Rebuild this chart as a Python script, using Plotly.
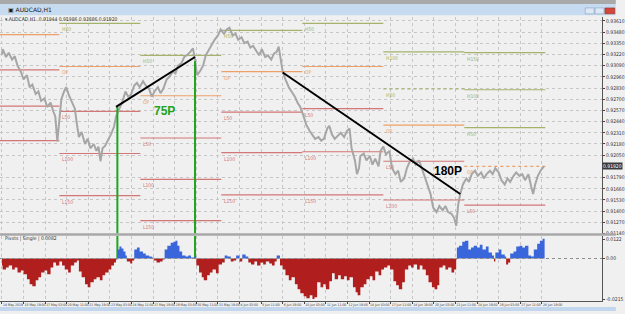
import plotly.graph_objects as go

# ---------------- data ----------------
# hourly bar index (0 = 14 May 2019 11:00) and closing price of AUDCAD H1 (sampled)
price_bar = [0, 1, 6, 10, 15, 19, 23, 28, 32, 37, 41, 45, 50, 54, 58, 63, 67, 72, 76, 79, 82, 85, 88, 92, 95, 99,
             104, 108, 111, 114, 118, 123, 127, 131, 136, 140, 143, 146, 149, 153, 158, 162, 166, 169, 174, 178,
             183, 187, 191, 196, 200, 204, 209, 213, 218, 222, 226, 231, 235, 239, 244, 248, 253, 257, 261, 266,
             270, 274, 279, 283, 286, 289, 293, 298, 302, 307, 311, 315, 320, 324, 329, 333, 337, 342, 346, 350,
             355, 359, 364, 368, 372, 377, 381, 385, 390, 394, 399, 403, 407, 410, 413, 416, 420, 425, 429, 434,
             438, 442, 447, 451, 456, 460, 464, 469, 473, 477, 482, 485, 489, 493, 498, 502, 507, 511, 515, 518,
             523, 526, 529, 531, 536, 540, 545, 549, 553, 558, 561, 565, 569, 574, 578, 583, 587, 591, 596, 600,
             604, 609, 613, 618, 622, 626, 631, 635, 639, 644, 648, 653, 657, 661, 666, 670, 673, 676, 679, 683,
             688, 692, 696, 701, 705, 710, 714, 718, 723, 727, 731, 736, 740, 745, 749, 753, 758, 762, 767, 771,
             775, 780, 784, 787, 790, 794, 798, 803]
price_close = [0.9322, 0.9328, 0.9319, 0.9324, 0.9316, 0.9320, 0.9309, 0.9302, 0.9293, 0.9298, 0.9284, 0.9287,
               0.9276, 0.9279, 0.9268, 0.9271, 0.9261, 0.9266, 0.9256, 0.9250, 0.9221, 0.9247, 0.9270, 0.9279,
               0.9284, 0.9275, 0.9266, 0.9259, 0.9241, 0.9226, 0.9232, 0.9218, 0.9224, 0.9213, 0.9218, 0.9210,
               0.9215, 0.9198, 0.9213, 0.9216, 0.9224, 0.9230, 0.9238, 0.9250, 0.9259, 0.9266, 0.9279, 0.9273,
               0.9275, 0.9286, 0.9289, 0.9284, 0.9291, 0.9286, 0.9282, 0.9273, 0.9279, 0.9284, 0.9277, 0.9282,
               0.9293, 0.9296, 0.9302, 0.9300, 0.9309, 0.9312, 0.9319, 0.9321, 0.9325, 0.9329, 0.9316, 0.9298,
               0.9302, 0.9309, 0.9321, 0.9328, 0.9335, 0.9339, 0.9344, 0.9351, 0.9346, 0.9351, 0.9353, 0.9344,
               0.9346, 0.9339, 0.9342, 0.9335, 0.9337, 0.9330, 0.9332, 0.9325, 0.9321, 0.9328, 0.9319, 0.9321,
               0.9316, 0.9323, 0.9325, 0.9331, 0.9314, 0.9302, 0.9293, 0.9284, 0.9279, 0.9273, 0.9266, 0.9261,
               0.9250, 0.9240, 0.9233, 0.9229, 0.9224, 0.9226, 0.9222, 0.9224, 0.9236, 0.9239, 0.9229, 0.9224,
               0.9228, 0.9231, 0.9226, 0.9233, 0.9236, 0.9213, 0.9199, 0.9183, 0.9190, 0.9204, 0.9207, 0.9199,
               0.9204, 0.9194, 0.9201, 0.9192, 0.9210, 0.9215, 0.9206, 0.9210, 0.9190, 0.9183, 0.9187, 0.9174,
               0.9178, 0.9190, 0.9197, 0.9201, 0.9194, 0.9199, 0.9190, 0.9181, 0.9171, 0.9160, 0.9144, 0.9139,
               0.9146, 0.9141, 0.9146, 0.9139, 0.9137, 0.9132, 0.9123, 0.9148, 0.9160, 0.9171, 0.9178, 0.9174,
               0.9183, 0.9187, 0.9181, 0.9185, 0.9178, 0.9183, 0.9187, 0.9183, 0.9190, 0.9185, 0.9176, 0.9171,
               0.9178, 0.9174, 0.9181, 0.9185, 0.9181, 0.9183, 0.9176, 0.9183, 0.9169, 0.9160, 0.9171, 0.9181,
               0.9187, 0.9192]

# weekly pivot levels (one value per week, None = not drawn)
week_start = [-35, 85, 205, 325, 445, 565, 685]
week_end = [85, 205, 325, 445, 565, 685, 805]
level_H150 = [None, None, None, None, None, None, 0.9324]
level_H100 = [None, None, None, None, None, 0.9325, 0.9281]
level_H50 = [None, 0.9358, 0.9321, 0.9350, 0.9358, 0.9282, 0.9237]
level_OP = [0.9345, 0.9308, 0.9274, 0.9302, 0.9308, 0.9240, 0.9192]
level_L50 = [0.9304, 0.9256, 0.9225, 0.9255, 0.9259, 0.9198, 0.9147]
level_L100 = [0.9262, 0.9207, 0.9177, 0.9208, 0.9209, 0.9153, None]
level_L150 = [0.9222, 0.9158, 0.9129, 0.9159, 0.9159, None, None]

# indicator histogram (Pivots | Single)
hist_bar = [0, 1, 6, 10, 15, 19, 23, 28, 32, 37, 41, 45, 50, 54, 58, 63, 67, 72, 76, 80, 85, 89, 93, 98, 102, 107,
            111, 114, 118, 123, 127, 131, 136, 140, 145, 149, 153, 158, 162, 166, 169, 171, 174, 177, 180, 183,
            185, 190, 193, 196, 200, 204, 209, 213, 218, 222, 225, 229, 234, 238, 241, 245, 250, 254, 257, 260,
            263, 267, 272, 276, 280, 285, 288, 292, 296, 299, 304, 308, 312, 317, 321, 326, 330, 334, 339, 343,
            347, 352, 356, 361, 365, 369, 374, 378, 383, 387, 391, 396, 400, 404, 407, 412, 416, 420, 425, 429,
            434, 438, 442, 447, 451, 456, 460, 463, 467, 472, 476, 480, 485, 489, 493, 498, 502, 507, 511, 515,
            520, 524, 527, 531, 536, 540, 545, 549, 553, 558, 562, 566, 571, 575, 580, 584, 588, 593, 597, 602,
            606, 610, 615, 619, 623, 628, 632, 637, 641, 645, 648, 653, 657, 661, 666, 670, 673, 674, 677, 682,
            686, 691, 695, 699, 704, 708, 712, 717, 721, 726, 729, 731, 736, 740, 745, 747, 750, 753, 758, 762,
            767, 771, 775, 780, 784, 788, 793, 797, 801, 804]
hist_value = [-0.0035, -0.0055, -0.0045, -0.0035, -0.0055, -0.0045, -0.0070, -0.0060, -0.0080, -0.0105, -0.0130,
              -0.0140, -0.0110, -0.0095, -0.0070, -0.0060, -0.0080, -0.0045, -0.0020, -0.0035, -0.0015, -0.0035,
              -0.0055, -0.0070, -0.0035, -0.0020, -0.0010, -0.0065, -0.0095, -0.0130, -0.0145, -0.0120, -0.0105,
              -0.0095, -0.0110, -0.0085, -0.0070, -0.0055, -0.0035, -0.0020, -0.0005, 0.0045, 0.0060, 0.0050,
              0.0035, 0.0015, -0.0015, -0.0025, -0.0010, 0.0045, 0.0055, 0.0035, 0.0025, 0.0015, 0.0010, 0.0005,
              -0.0010, -0.0020, -0.0015, -0.0005, 0.0045, 0.0065, 0.0080, 0.0085, 0.0090, 0.0065, 0.0035, 0.0015,
              0.0010, 0.0015, 0.0005, 0.0010, -0.0035, -0.0070, -0.0095, -0.0110, -0.0085, -0.0070, -0.0055,
              -0.0075, -0.0030, -0.0020, 0.0015, 0.0010, -0.0015, -0.0010, 0.0015, -0.0015, 0.0020, 0.0010,
              -0.0020, -0.0030, -0.0015, -0.0035, -0.0020, -0.0030, -0.0015, -0.0025, -0.0035, -0.0015, 0.0015,
              -0.0035, -0.0055, -0.0085, -0.0110, -0.0095, -0.0130, -0.0155, -0.0175, -0.0190, -0.0200, -0.0185,
              -0.0205, -0.0195, -0.0120, -0.0145, -0.0130, -0.0155, -0.0115, -0.0075, -0.0105, -0.0085, -0.0105,
              -0.0090, -0.0110, -0.0095, -0.0145, -0.0170, -0.0185, -0.0145, -0.0130, -0.0105, -0.0090, -0.0110,
              -0.0065, -0.0085, -0.0055, -0.0045, -0.0035, -0.0055, -0.0115, -0.0135, -0.0155, -0.0120, -0.0055,
              -0.0035, -0.0045, -0.0030, -0.0055, -0.0035, -0.0055, -0.0085, -0.0120, -0.0145, -0.0155, -0.0135,
              -0.0045, -0.0035, -0.0055, -0.0045, -0.0070, -0.0055, -0.0005, 0.0055, 0.0065, 0.0085, 0.0090,
              0.0045, 0.0055, 0.0065, 0.0055, 0.0070, 0.0045, 0.0060, 0.0030, 0.0015, -0.0015, 0.0030, 0.0045,
              0.0020, 0.0010, -0.0030, -0.0020, 0.0025, 0.0035, 0.0060, 0.0065, 0.0055, 0.0065, 0.0015, 0.0010,
              0.0045, 0.0075, 0.0090, 0.0100, 0.0100]

# time axis labels (every 32 bars)
time_tick_bars = [0, 32, 64, 96, 128, 160, 192, 224, 256, 288, 320, 352, 384, 416, 448, 480, 512, 544, 576, 608,
                  640, 672, 704, 736, 768, 800]
time_tick_text = ["14 May 2019", "15 May 19:00", "17 May 03:00", "20 May 11:00", "21 May 19:00", "23 May 03:00",
                  "24 May 11:00", "27 May 19:00", "29 May 03:00", "30 May 11:00", "31 May 19:00", "4 Jun 03:00",
                  "5 Jun 11:00", "6 Jun 19:00", "10 Jun 03:00", "11 Jun 11:00", "12 Jun 19:00", "14 Jun 03:00",
                  "17 Jun 11:00", "18 Jun 19:00", "20 Jun 03:00", "21 Jun 11:00", "24 Jun 19:00", "26 Jun 03:00",
                  "27 Jun 11:00", "28 Jun 19:00"]
price_ticks = [0.9114, 0.9127, 0.9140, 0.9153, 0.9166, 0.9179, 0.9205, 0.9218, 0.9231, 0.9244, 0.9257,
               0.9270, 0.9283, 0.9296, 0.9309, 0.9322, 0.9335, 0.9348, 0.9361]
ind_ticks = [0.0095, 0, -0.0205]
ind_tick_text = ["0.0122", "0.00", "-0.0215"]

# drawn objects
trend_75_bars = [169, 286]
trend_75_prices = [0.9261, 0.9319]
trend_180_bars = [416, 679]
trend_180_prices = [0.9301, 0.9160]
green_bars = [171, 286]
green_tops = [0.9261, 0.9314]
last_price = 0.9192
ohlc_text = "AUDCAD,H1  0.91944 0.91986 0.91886 0.91920"

# ---------------- figure ----------------
W, H = 625, 314
PLOT_R = 611
X_RANGE = [-2.92, 889.05]
Y_RANGE = [0.91138, 0.936565]
Y2_RANGE = [-0.0215, 0.0115]
SMALL = "Liberation Sans Narrow, DejaVu Sans Condensed, DejaVu Sans"

def px(x):
    return x / PLOT_R

def py(y):
    return 1 - y / H

fig = go.Figure()

# pivot level segments
level_sets = [("H150", level_H150, "#a3b46a"), ("H100", level_H100, "#a3b46a"), ("H50", level_H50, "#a3b46a"),
              ("OP", level_OP, "#eea068"), ("L50", level_L50, "#d27676"), ("L100", level_L100, "#d27676"),
              ("L150", level_L150, "#d27676")]
annotations = []
for name, vals, col in level_sets:
    for i, v in enumerate(vals):
        if v is None:
            continue
        dash = "solid"
        if (name == "H50" and i == 5) or (name == "OP" and i == 6):
            dash = "dot"
        fig.add_trace(go.Scatter(x=[week_start[i], week_end[i]], y=[v, v], mode="lines",
                                 line=dict(color=col, width=1.2, dash=dash), xaxis="x", yaxis="y",
                                 hoverinfo="skip", showlegend=False))
        if week_start[i] >= 0:
            annotations.append(dict(x=week_start[i], y=v, xref="x", yref="y", text=name, showarrow=False,
                                    xanchor="left", yanchor="top", xshift=1, yshift=-1,
                                    font=dict(size=5, color=col, family=SMALL)))

# price
fig.add_trace(go.Scatter(x=price_bar, y=price_close, mode="lines", line=dict(color="#a6a6a6", width=2),
                         xaxis="x", yaxis="y", hoverinfo="skip", showlegend=False))

# green verticals
for b, t in zip(green_bars, green_tops):
    fig.add_trace(go.Scatter(x=[b, b], y=[t, Y_RANGE[0]], mode="lines", line=dict(color="#1fa51f", width=2),
                             xaxis="x", yaxis="y", hoverinfo="skip", showlegend=False))
    fig.add_trace(go.Scatter(x=[b, b], y=[Y2_RANGE[1], 0], mode="lines", line=dict(color="#1fa51f", width=2),
                             xaxis="x2", yaxis="y2", hoverinfo="skip", showlegend=False))

# trend lines
fig.add_trace(go.Scatter(x=trend_75_bars, y=trend_75_prices, mode="lines", line=dict(color="black", width=2),
                         xaxis="x", yaxis="y", hoverinfo="skip", showlegend=False))
fig.add_trace(go.Scatter(x=trend_180_bars, y=trend_180_prices, mode="lines", line=dict(color="black", width=2),
                         xaxis="x", yaxis="y", hoverinfo="skip", showlegend=False))

# histogram
neg = [min(v, 0) for v in hist_value]
pos = [max(v, 0) for v in hist_value]
fig.add_trace(go.Scatter(x=hist_bar, y=neg, mode="lines", line=dict(width=0, shape="hv", color="#b01e1e"),
                         fill="tozeroy", fillcolor="#b01e1e", xaxis="x2", yaxis="y2", hoverinfo="skip",
                         showlegend=False))
fig.add_trace(go.Scatter(x=hist_bar, y=pos, mode="lines", line=dict(width=0, shape="hv", color="#3a66dc"),
                         fill="tozeroy", fillcolor="#3a66dc", xaxis="x2", yaxis="y2", hoverinfo="skip",
                         showlegend=False))

annotations += [
    dict(x=241, y=0.9256, xref="x", yref="y", text="<b>75P</b>", showarrow=False,
         font=dict(size=12, color="#1fa51f", family="Liberation Sans")),
    dict(x=661, y=0.9187, xref="x", yref="y", text="<b>180P</b>", showarrow=False,
         font=dict(size=12, color="black", family="Liberation Sans")),
    dict(x=px(3), y=py(19), xref="paper", yref="paper", text="▾ " + ohlc_text, showarrow=False,
         xanchor="left", yanchor="middle", font=dict(size=5, color="#333333", family=SMALL)),
    dict(x=px(3), y=py(241), xref="paper", yref="paper", text="Pivots | Single | 0.0082", showarrow=False,
         xanchor="left", yanchor="middle", font=dict(size=5, color="#333333", family=SMALL)),
    dict(x=px(6), y=py(9.5), xref="paper", yref="paper", text="▣ AUDCAD,H1", showarrow=False,
         xanchor="left", yanchor="middle", font=dict(size=6, color="#1a1a1a", family="DejaVu Sans")),
    dict(x=1.0, y=last_price, xref="paper", yref="y", text="0.91920", showarrow=False, xanchor="left",
         yanchor="middle", bgcolor="#3a3a3a", borderpad=0, font=dict(size=5, color="white", family=SMALL)),
]

shapes = [
    # window chrome
    dict(type="rect", xref="paper", yref="paper", x0=0, x1=px(W), y0=py(0), y1=py(4), fillcolor="#a9a9a9",
         line=dict(width=0), layer="above"),
    dict(type="rect", xref="paper", yref="paper", x0=0, x1=px(W), y0=py(4), y1=py(15.5), fillcolor="#c6daf0",
         line=dict(width=0), layer="above"),
    dict(type="rect", xref="paper", yref="paper", x0=px(594), x1=px(603), y0=py(8), y1=py(14),
         fillcolor="#dce8f6", line=dict(width=0.5, color="#7d95b5"), layer="above"),
    dict(type="rect", xref="paper", yref="paper", x0=px(604), x1=px(613), y0=py(8), y1=py(14),
         fillcolor="#dce8f6", line=dict(width=0.5, color="#7d95b5"), layer="above"),
    dict(type="rect", xref="paper", yref="paper", x0=px(614), x1=px(624), y0=py(8), y1=py(14),
         fillcolor="#d2473a", line=dict(width=0.5, color="#8a2b22"), layer="above"),
    dict(type="rect", xref="paper", yref="paper", x0=0, x1=px(W), y0=py(310), y1=py(314), fillcolor="#c2d6ee",
         line=dict(width=0), layer="above"),
    # panel divider
    dict(type="rect", xref="paper", yref="paper", x0=0, x1=px(W), y0=py(235.5), y1=py(238),
         fillcolor="#a8a8a8", line=dict(width=0), layer="above"),
    # indicator zero level
    dict(type="line", xref="paper", yref="y2", x0=0, x1=1, y0=0, y1=0,
         line=dict(color="#8c8c8c", width=1, dash="dot"), layer="above"),
]

grid = dict(showgrid=True, gridcolor="#c6c6c6", griddash="dot", gridwidth=1)
tickfont = dict(size=5, color="#333", family=SMALL)
fig.update_layout(
    width=W, height=H, margin=dict(l=0, r=W - PLOT_R, t=0, b=0),
    paper_bgcolor="#f0f0f0", plot_bgcolor="#f0f0f0", showlegend=False,
    xaxis=dict(domain=[0, 1], range=X_RANGE, anchor="y", tickvals=time_tick_bars, showticklabels=False,
               ticks="", zeroline=False, showline=False, **grid),
    yaxis=dict(domain=[1 - 236 / H, 1 - 17 / H], range=Y_RANGE, side="right", anchor="x",
               tickvals=price_ticks, ticktext=[f"{t:.5f}" for t in price_ticks], ticks="outside", ticklen=2,
               tickcolor="#444", tickfont=tickfont, showline=True, linecolor="#555", linewidth=1,
               zeroline=False, **grid),
    xaxis2=dict(domain=[0, 1], range=X_RANGE, anchor="y2", tickvals=time_tick_bars, ticktext=time_tick_text,
                tickangle=0, ticklabelposition="outside right", ticks="outside", ticklen=2, tickcolor="#444",
                tickfont=dict(size=3.4, color="#333", family=SMALL), showline=True, linecolor="#555",
                zeroline=False, **grid),
    yaxis2=dict(domain=[1 - 304 / H, 1 - 238 / H], range=Y2_RANGE, side="right", anchor="x2",
                tickvals=ind_ticks, ticktext=ind_tick_text, ticks="outside",
                ticklen=2, tickcolor="#444", tickfont=tickfont,
                showline=True, linecolor="#555", showgrid=False, zeroline=False),
    annotations=annotations, shapes=shapes,
)

fig.write_html("out.html")
